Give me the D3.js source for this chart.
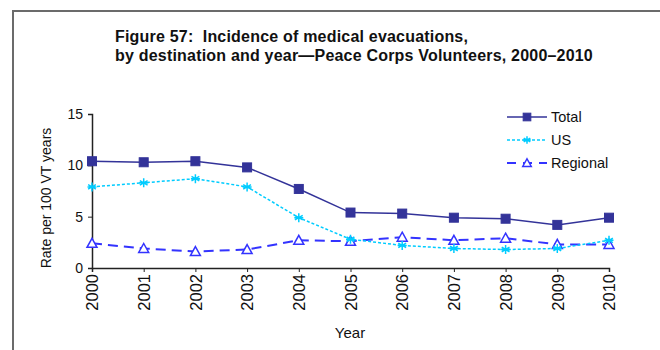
<!DOCTYPE html>
<html>
<head>
<meta charset="utf-8">
<script src="https://cdn.jsdelivr.net/npm/d3@7"></script>
<style>
  html, body { margin: 0; padding: 0; background: #fff; }
  svg { display: block; font-family: "Liberation Sans", Arial, sans-serif; }
  text { white-space: pre; }
</style>
</head>
<body>
<svg id="chart" width="660" height="350"></svg>
<script>
// Medical evacuation rates per 100 volunteer-years, 2000–2010
const years = [2000, 2001, 2002, 2003, 2004, 2005, 2006, 2007, 2008, 2009, 2010];
const totalRate    = [10.4, 10.3, 10.4, 9.8, 7.7, 5.4, 5.3, 4.9, 4.8, 4.2, 4.9];
const usRate       = [7.9, 8.3, 8.7, 7.9, 4.9, 2.8, 2.2, 1.9, 1.8, 1.9, 2.7];
const regionalRate = [2.4, 1.9, 1.6, 1.8, 2.7, 2.6, 3.0, 2.7, 2.9, 2.3, 2.3];
const yTicks = [0, 5, 10, 15];
const seriesNames = ["Total", "US", "Regional"];

const svg = d3.select("#chart");

// panel frame (top and left edges)
svg.append("path")
  .attr("d", "M13,350 V11 H660")
  .attr("fill", "none")
  .attr("stroke", "#6b6b6b")
  .attr("stroke-width", 2);

// title
const title = svg.append("text")
  .attr("font-size", 16).attr("font-weight", "bold").attr("fill", "#111")
  .attr("letter-spacing", 0.2);
title.append("tspan").attr("x", 115).attr("y", 42).text("Figure 57:  Incidence of medical evacuations,");
title.append("tspan").attr("x", 115).attr("y", 61).text("by destination and year\u2014Peace Corps Volunteers, 2000\u20132010");

const x = d3.scaleLinear().domain([2000, 2010]).range([92, 609]);
const y = d3.scaleLinear().domain([0, 15]).range([268, 114]);

// axes
const yAxis = svg.append("g")
  .attr("transform", `translate(${x(2000)},0)`)
  .call(d3.axisLeft(y).tickValues(yTicks).tickSize(4).tickPadding(5).tickFormat(d3.format("d")));
const xAxis = svg.append("g")
  .attr("transform", `translate(0,${y(0)})`)
  .call(d3.axisBottom(x).tickValues(years).tickSize(4).tickFormat(d3.format("d")));

[yAxis, xAxis].forEach(g => {
  g.select(".domain").attr("stroke", "#222").attr("stroke-width", 1.5);
  g.selectAll(".tick line").attr("stroke", "#222");
  g.selectAll("text").attr("font-size", 14).attr("fill", "#111")
    .attr("font-family", "\"Liberation Sans\", Arial, sans-serif");
});
xAxis.selectAll(".tick text")
  .attr("font-size", 16.5)
  .attr("transform", "rotate(-90)")
  .attr("text-anchor", "end")
  .attr("x", -6).attr("y", 0).attr("dy", "0.35em");

// axis titles
svg.append("text")
  .attr("transform", `translate(46,${(y(0) + y(15)) / 2 + 7}) rotate(-90)`)
  .attr("text-anchor", "middle").attr("dy", "0.35em")
  .attr("font-size", 14).attr("fill", "#111")
  .text("Rate per 100 VT years");
svg.append("text")
  .attr("x", 350).attr("y", 338).attr("text-anchor", "middle")
  .attr("font-size", 15).attr("fill", "#111")
  .text("Year");

// series styling
const styles = {
  Total:    { color: "#333399", dash: null,   width: 1.5, marker: "square" },
  US:       { color: "#00ccff", dash: "3,2",  width: 1.5, marker: "star" },
  Regional: { color: "#3333ff", dash: "10,6", width: 2,   marker: "triangle" }
};
const seriesData = { Total: totalRate, US: usRate, Regional: regionalRate };

const line = d3.line().x(d => x(d.year)).y(d => y(d.value));

function drawMarker(g, type, cx, cy, color, size) {
  const k = size || 1;
  if (type === "square") {
    const h = 4.5 * k;
    g.append("rect").attr("x", cx - h).attr("y", cy - h).attr("width", 2 * h).attr("height", 2 * h)
      .attr("fill", color).attr("stroke", "#333399").attr("stroke-width", 1);
  } else if (type === "star") {
    const r = 4.5 * k;
    const p = [0, 60, 120].map(a => {
      const t = a * Math.PI / 180;
      return `M${cx - r * Math.sin(t)},${cy - r * Math.cos(t)}L${cx + r * Math.sin(t)},${cy + r * Math.cos(t)}`;
    }).join("");
    g.append("path").attr("d", p + `M${cx - r},${cy}L${cx + r},${cy}`)
      .attr("stroke", color).attr("stroke-width", 1.5).attr("fill", "none");
  } else {
    const s = 5 * k;
    g.append("path")
      .attr("d", `M${cx},${cy - s}L${cx + s},${cy + s * 0.8}L${cx - s},${cy + s * 0.8}Z`)
      .attr("fill", "#fff").attr("stroke", color).attr("stroke-width", 1.5);
  }
}

// draw series back-to-front: Regional, US, Total
["Regional", "US", "Total"].forEach(name => {
  const st = styles[name];
  const pts = years.map((yr, i) => ({ year: yr, value: seriesData[name][i] }));
  const g = svg.append("g");
  g.append("path").datum(pts)
    .attr("d", line)
    .attr("fill", "none")
    .attr("stroke", st.color)
    .attr("stroke-width", st.width)
    .attr("stroke-dasharray", st.dash);
  pts.forEach(p => drawMarker(g, st.marker, x(p.year), y(p.value), st.color));
});

// legend
const legend = svg.append("g");
seriesNames.forEach((name, i) => {
  const st = styles[name];
  const ly = 117 + i * 23;
  legend.append("line")
    .attr("x1", 507).attr("x2", 547).attr("y1", ly).attr("y2", ly)
    .attr("stroke", st.color).attr("stroke-width", st.width)
    .attr("stroke-dasharray", name === "Regional" ? "9,7" : st.dash);
  drawMarker(legend, st.marker, 527, ly, st.color, 0.85);
  legend.append("text")
    .attr("x", 551).attr("y", ly).attr("dy", "0.35em")
    .attr("font-size", 14.5).attr("fill", "#111")
    .text(name);
});
</script>
</body>
</html>
